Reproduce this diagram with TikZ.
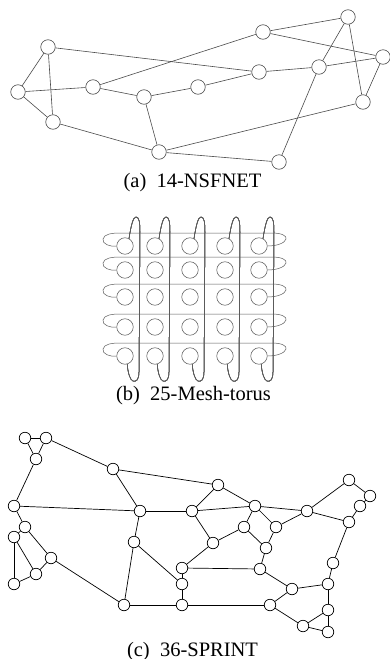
\documentclass[tikz,border=0pt]{standalone}
\usepackage{fontspec}
\setmainfont{Liberation Serif}
\usetikzlibrary{backgrounds}
\definecolor{wire}{HTML}{4A4A4A}
\definecolor{meshwire}{HTML}{5A5A5A}
\tikzset{
  nsfnode/.style={circle,draw=wire,fill=white,line width=0.6pt,minimum size=14.5pt,inner sep=0pt},
  nsfedge/.style={draw=wire,line width=0.6pt},
  meshnode/.style={circle,draw=meshwire,fill=white,line width=0.55pt,minimum size=16.5pt,inner sep=0pt},
  meshedge/.style={draw=meshwire,line width=0.5pt},
  sprnode/.style={circle,draw=black,fill=white,line width=0.7pt,minimum size=11.5pt,inner sep=0pt},
  spredge/.style={draw=black,line width=0.7pt},
  caption/.style={font=\fontsize{20.5}{24}\selectfont,anchor=base,inner sep=0pt}
}
\begin{document}
\begin{tikzpicture}[x=1pt,y=-1pt]
\useasboundingbox (0,0) rectangle (390,659);

% ---------------- (a) 14-NSFNET ----------------
\foreach \n/\p in {1/{48,47},2/{18,92},3/{53,122},4/{93,87},5/{144,97},6/{159,152},
  7/{198,87},8/{259,72},9/{263,32},10/{348,17},11/{319,67},12/{383,57},13/{363,102},14/{279,162}}
  \node[nsfnode] (n\n) at (\p) {};
\begin{scope}[on background layer]
\foreach \u/\v in {1/2,1/3,1/8,2/4,2/3,3/6,4/5,4/9,5/7,5/6,6/13,6/14,7/8,9/10,9/12,8/11,11/12,11/10,11/14,10/13,12/13}
  \draw[nsfedge] (n\u) -- (n\v);
\end{scope}
\node[caption] (capa) at (192.5,187.5) {(a)\hspace{0.5em}14-NSFNET};

% ---------------- (b) 25-Mesh-torus ----------------
\foreach \Y [count=\r] in {246,270,297,327,356}
  \foreach \X [count=\c] in {125,155,190,225,259}
    \node[meshnode] (m-\r-\c) at (\X,\Y) {};
\begin{scope}[on background layer]
  % grid links
  \foreach \r in {1,...,5}
    \foreach \c [evaluate=\c as \d using int(\c+1)] in {1,...,4} {
      \draw[meshedge] (m-\r-\c) -- (m-\r-\d);
      \draw[meshedge] (m-\c-\r) -- (m-\d-\r);
    }
  % wrap-around links of the columns
  \foreach \X [count=\c] in {125,155,190,225,259}
    \draw[meshedge] (m-1-\c.62) .. controls ({\X+6},226) and ({\X+8},217) .. ({\X+11},217)
      .. controls ({\X+14},217) and ({\X+15},222) .. ({\X+15},232)
      -- ({\X+14},372) .. controls ({\X+14},380) and ({\X+11},382) .. ({\X+8},381)
      .. controls ({\X+5},380) and ({\X+3},373) .. (m-5-\c.-75);
  % wrap-around links of the rows
  \foreach \Y [count=\r] in {246,270,297,327,356}
    \draw[meshedge] (m-\r-1.west) .. controls (110,{\Y+1}) and (102,{\Y-2}) .. (103,{\Y-7})
      .. controls (104,{\Y-12}) and (112,{\Y-13}) .. (120,{\Y-13})
      -- (272,{\Y-13}) .. controls (282,{\Y-13}) and (287,{\Y-10}) .. (286,{\Y-7})
      .. controls (285,{\Y-3}) and (277,{\Y}) .. (m-\r-5.east);
\end{scope}
\node[caption] (capb) at (193.5,400) {(b)\hspace{0.5em}25-Mesh-torus};

% ---------------- (c) 36-SPRINT ----------------
\foreach \n/\p in {1/{25,438},2/{46,438},3/{36,459},4/{14,506},5/{25,527},6/{14,537},
  7/{51,558},8/{36,574},9/{14,584},10/{113,469},11/{140,511},12/{134,542},
  13/{124,605},14/{182,605},15/{182,584},16/{182,568},17/{192,511},18/{218,485},
  19/{255,506},20/{244,527},21/{213,543},22/{307,511},23/{276,527},24/{266,548},
  25/{260,569},26/{292,589},27/{328,584},28/{333,563},29/{349,522},30/{360,506},
  31/{370,496},32/{270,605},33/{328,610},34/{303,626},35/{328,632},36/{349,480}}
  \node[sprnode] (s\n) at (\p) {};
\begin{scope}[on background layer]
\foreach \u/\v in {1/2,1/3,2/3,3/4,2/10,4/11,4/5,5/7,5/6,6/8,6/9,8/9,7/8,7/13,
  10/11,10/18,11/17,11/12,12/13,12/15,13/14,14/15,15/16,16/25,16/21,17/21,17/18,
  17/19,18/19,19/20,20/21,20/24,19/22,19/23,23/22,23/24,24/25,25/26,26/27,27/28,
  28/29,29/30,30/31,29/22,22/36,36/31,27/33,33/35,33/34,34/35,32/34,32/26,14/32}
  \draw[spredge] (s\u) -- (s\v);
\end{scope}
\node[caption] (capc) at (192.5,656) {(c)\hspace{0.5em}36-SPRINT};
\end{tikzpicture}
\end{document}
